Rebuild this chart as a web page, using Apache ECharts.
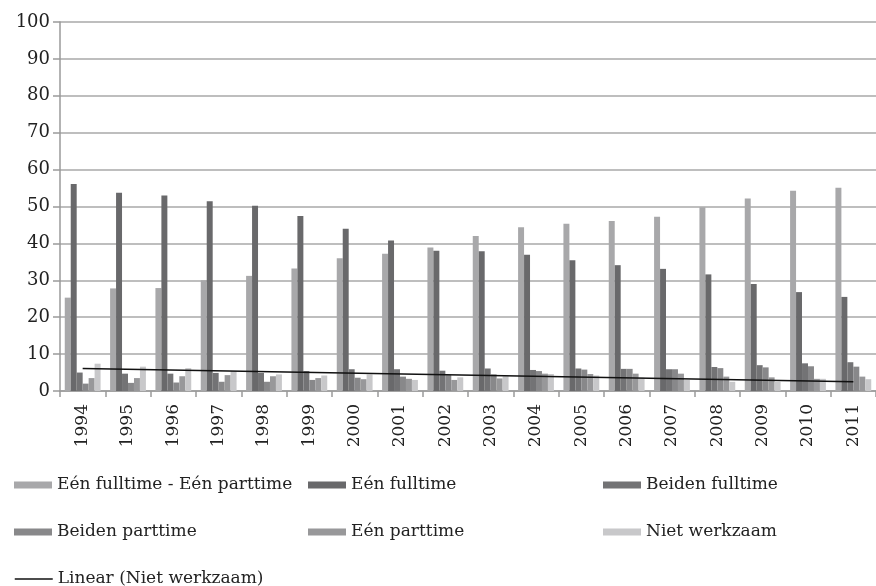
<!DOCTYPE html>
<html lang="nl">
<head>
    <meta charset="UTF-8">
    <title>Huishoudens naar arbeidsdeelname</title>
    <script src="https://cdn.jsdelivr.net/npm/echarts@6/dist/echarts.min.js"></script>
    <style>
        html, body { margin: 0; padding: 0; background: #fff; }
        #chart { width: 876px; height: 586px; }
    </style>
</head>
<body>
<div id="chart"></div>
<script>
    // jaren (x-as)
    var years = ['1994', '1995', '1996', '1997', '1998', '1999', '2000', '2001', '2002',
        '2003', '2004', '2005', '2006', '2007', '2008', '2009', '2010', '2011'];

    // waarden per reeks
    var eenFtEenPt = [25.3, 27.8, 27.9, 30.0, 31.2, 33.2, 36.0, 37.2, 38.9, 42.0, 44.4, 45.3, 46.1, 47.2, 49.8, 52.2, 54.3, 55.1];
    var eenFt = [56.1, 53.7, 53.0, 51.4, 50.2, 47.4, 44.0, 40.8, 38.0, 37.9, 36.9, 35.4, 34.1, 33.1, 31.6, 29.0, 26.8, 25.5];
    var beidenFt = [5.0, 4.7, 4.7, 4.9, 4.9, 5.4, 5.9, 5.9, 5.5, 6.1, 5.7, 6.1, 6.0, 5.9, 6.5, 7.0, 7.5, 7.8];
    var beidenPt = [2.0, 2.2, 2.3, 2.5, 2.5, 3.0, 3.6, 3.9, 4.3, 4.5, 5.4, 5.8, 6.0, 5.9, 6.2, 6.4, 6.7, 6.6];
    var eenPt = [3.5, 3.5, 4.0, 4.3, 4.0, 3.5, 3.2, 3.3, 3.0, 3.4, 4.7, 4.6, 4.7, 4.7, 3.9, 3.7, 3.3, 3.9];
    var nietWerkzaam = [7.4, 6.6, 6.2, 5.4, 4.5, 4.2, 4.5, 3.0, 3.7, 4.0, 4.6, 4.2, 3.6, 3.0, 2.5, 2.5, 3.3, 3.2];

    var trendYears = ['1994', '2011'];
    var trendValues = [6.1, 2.5];

    var yTicks = [0, 100, 10]; // min, max, interval

    var seriesNames = ['Eén fulltime - Eén parttime', 'Eén fulltime', 'Beiden fulltime',
        'Beiden parttime', 'Eén parttime', 'Niet werkzaam'];
    var seriesData = [eenFtEenPt, eenFt, beidenFt, beidenPt, eenPt, nietWerkzaam];
    var colors = ['#a8a8aa', '#69696b', '#737375', '#88888a', '#98989a', '#c8c8ca'];
    var trendName = 'Linear (Niet werkzaam)';

    var font = 'DejaVu Serif';

    var series = [];
    for (var i = 0; i < seriesNames.length; i++) {
        series.push({
            name: seriesNames[i],
            type: 'bar',
            data: seriesData[i],
            barGap: 0,
            barCategoryGap: '21%',
            itemStyle: {color: colors[i]},
            silent: true
        });
    }
    var trendData = [];
    for (var j = 0; j < trendYears.length; j++) {
        trendData.push([trendYears[j], trendValues[j]]);
    }
    series.push({
        name: trendName,
        type: 'line',
        data: trendData,
        symbol: 'none',
        silent: true,
        itemStyle: {color: '#111'},
        lineStyle: {color: '#111', width: 1.5},
        z: 5
    });

    // één legenda per item, zodat de kolommen en rijen vast staan
    var legendSpots = [
        [seriesNames[0], 14, 485], [seriesNames[1], 308, 485], [seriesNames[2], 603, 485],
        [seriesNames[3], 14, 532], [seriesNames[4], 308, 532], [seriesNames[5], 603, 532],
        [trendName, 14, 579]
    ];
    var legends = legendSpots.map(function (s) {
        var item = s[0] === trendName
            ? {name: s[0], itemStyle: {opacity: 0}, lineStyle: {color: '#111', width: 1.5}}
            : {name: s[0], icon: 'rect'};
        return {
            left: s[1],
            top: s[2] - 10,
            padding: 0,
            itemWidth: 38,
            itemHeight: 7,
            selectedMode: false,
            textStyle: {fontFamily: font, fontSize: 17, color: '#222', lineHeight: 20},
            data: [item]
        };
    });

    var chart = echarts.init(document.getElementById('chart'));
    chart.setOption({
        animation: false,
        grid: {left: 60, right: -7, top: 22, bottom: 195, containLabel: false},
        legend: legends,
        xAxis: {
            type: 'category',
            data: years,
            boundaryGap: true,
            axisLine: {lineStyle: {color: '#9a9a9a', width: 1.5}},
            axisTick: {show: true, alignWithLabel: false, length: 6, lineStyle: {color: '#9a9a9a', width: 1.5}},
            axisLabel: {rotate: 90, margin: 13, fontFamily: font, fontSize: 17, color: '#222'}
        },
        yAxis: {
            type: 'value',
            min: yTicks[0],
            max: yTicks[1],
            interval: yTicks[2],
            axisLine: {show: true, lineStyle: {color: '#9a9a9a', width: 1.5}},
            axisTick: {show: true, length: 7, lineStyle: {color: '#9a9a9a', width: 1.5}},
            splitLine: {lineStyle: {color: '#a8a8a8', width: 1.5}},
            axisLabel: {margin: 10, fontFamily: font, fontSize: 18, color: '#222'}
        },
        series: series
    });
</script>
</body>
</html>
